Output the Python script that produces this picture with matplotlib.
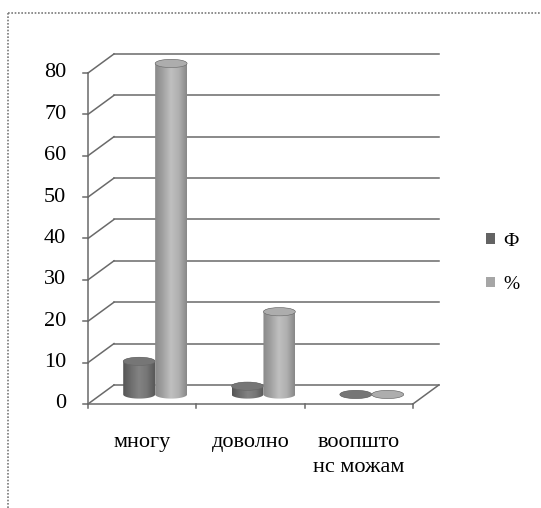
import matplotlib
matplotlib.use("Agg")
import matplotlib.pyplot as plt
import numpy as np
from matplotlib.colors import LinearSegmentedColormap
from matplotlib.lines import Line2D
from matplotlib.patches import Patch, Polygon, Ellipse

plt.rcParams["font.family"] = ["Liberation Serif", "DejaVu Serif"]

# survey answers: frequency (Ф) and percentage (%)
categories = ["многу", "доволно", "воопшто\nнс можам"]
series_names = ["Ф", "%"]
freq_values = [8, 2, 0]
pct_values = [80, 20, 0]
y_ticks = [0, 10, 20, 30, 40, 50, 60, 70, 80]

# oblique 3-D look: depth offset of the back wall, in axis units
DX, DY = 0.24, 4.6
BAR_W = 0.295
ELL_H = 1.0
GRID_C = "#6a6a6a"

body_cmaps = [
    LinearSegmentedColormap.from_list("dark", ["#555555", "#6e6e6e", "#838383", "#767676", "#585858"]),
    LinearSegmentedColormap.from_list("light", ["#8a8a8a", "#a2a2a2", "#c0c0c0", "#b0b0b0", "#888888"]),
]
top_colors = ["#767676", "#adadad"]
legend_colors = ["#636363", "#a6a6a6"]

fig = plt.figure(figsize=(5.41, 5.08), dpi=100)
ax = fig.add_axes([0.0626, 0.1396, 0.8007, 0.8145])
ax.axis("off")

n_cat = len(categories)

# back wall gridlines and side-wall diagonals
for v in y_ticks:
    ax.plot([DX, n_cat + DX], [v + DY, v + DY], color=GRID_C, lw=1.1, zorder=1)
    ax.plot([0, DX], [v, v + DY], color=GRID_C, lw=1.1, zorder=1)
    ax.plot([-0.045, 0], [v, v], color=GRID_C, lw=1.1, zorder=1)
    ax.text(-0.2, v, str(v), ha="right", va="center", fontsize=16)

# front value axis and floor outline
ax.plot([0, 0], [0, y_ticks[-1]], color=GRID_C, lw=1.1, zorder=1)
ax.plot([0, n_cat], [0, 0], color=GRID_C, lw=1.1, zorder=1)
ax.plot([n_cat, n_cat + DX], [0, DY], color=GRID_C, lw=1.1, zorder=1)
for i in range(n_cat + 1):
    ax.plot([i, i], [0, -1.0], color=GRID_C, lw=1.1, zorder=1)


def cylinder(cx, base, top, cmap, top_color, z):
    t_low = np.linspace(np.pi, 2 * np.pi, 40)
    t_up = np.linspace(0, np.pi, 40)
    xs = np.concatenate([[cx - BAR_W / 2], cx + BAR_W / 2 * np.cos(t_low),
                         cx + BAR_W / 2 * np.cos(t_up)])
    ys = np.concatenate([[top], base + ELL_H * np.sin(t_low),
                         top + ELL_H * np.sin(t_up)])
    outline = Polygon(np.column_stack([xs, ys]), closed=True, fc="none", ec="none")
    ax.add_patch(outline)
    grad = np.linspace(0, 1, 64).reshape(1, -1)
    img = ax.imshow(grad, cmap=cmap, aspect="auto", zorder=z,
                    extent=[cx - BAR_W / 2, cx + BAR_W / 2, base - ELL_H, top + ELL_H])
    img.set_clip_path(outline)
    ax.add_patch(Ellipse((cx, top), BAR_W, 2 * ELL_H, fc=top_color, ec="#666666",
                         lw=0.4, zorder=z + 0.1))


for i in range(n_cat):
    centre = i + 0.5 + DX / 2
    base = DY / 2
    for s, vals in enumerate([freq_values, pct_values]):
        cx = centre + (s - 0.5) * BAR_W
        cylinder(cx, base, base + vals[i], body_cmaps[s], top_colors[s], 3 + s)
    ax.text(i + 0.5, -7.0, categories[i], ha="center", va="top", fontsize=16,
            linespacing=1.4)

ax.set_xlim(-0.5, 3.5)
ax.set_ylim(-8, 92)

handles = [Patch(fc=c, ec="none") for c in legend_colors]
fig.legend(handles, series_names, loc="center left", bbox_to_anchor=(0.866, 0.483),
           frameon=False, handlelength=0.45, handleheight=0.45, handletextpad=0.45,
           labelspacing=1.35, prop={"size": 14})

# dotted chart-area border along the top and left
border = dict(color="#7a7a7a", lw=1.2, ls=(0, (1, 1)), transform=fig.transFigure)
fig.add_artist(Line2D([8 / 541, 1.0], [1 - 13 / 508, 1 - 13 / 508], **border))
fig.add_artist(Line2D([8 / 541, 8 / 541], [0.0, 1 - 13 / 508], **border))

fig.savefig("out.png", dpi=100)
